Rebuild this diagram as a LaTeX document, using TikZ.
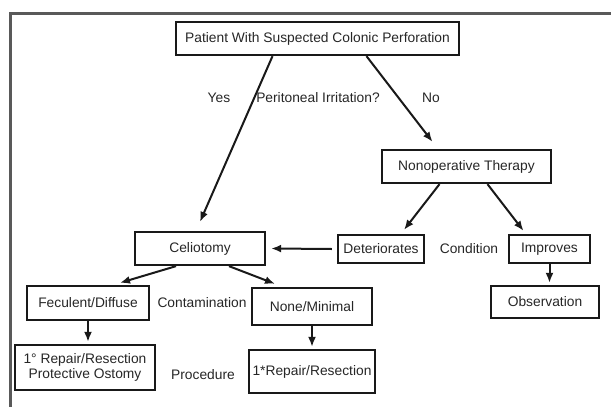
\documentclass[tikz,border=0pt]{standalone}
\usepackage{fontspec}
\setmainfont{Liberation Sans}
\usetikzlibrary{arrows.meta,calc}
\begin{document}
\begin{tikzpicture}[x=1pt,y=-1pt,
  every node/.style={font=\fontsize{13.8}{15.5}\selectfont, text=black!85},
  box/.style={draw=black!90, line width=2.3pt, inner sep=0pt, align=center},
  lbl/.style={inner sep=0pt},
  arr/.style={draw=black!90, line width=2pt, -{Latex[length=10pt,width=8pt]}},
  frame/.style={draw=black!65, line width=3pt}]
\useasboundingbox (0,0) rectangle (611,407);
\coordinate (fa) at (611,13);
\coordinate (fb) at (10,13);
\coordinate (fc) at (10,407);
\draw[frame] (fa) -- (fb) -- (fc);

\node[box, minimum width=283, minimum height=33] (top) at (317.5,38.5) {Patient With Suspected Colonic Perforation};
\node[box, minimum width=169, minimum height=33] (nonop) at (466.5,166.5) {Nonoperative Therapy};
\node[box, minimum width=130, minimum height=33] (celio) at (200,248.5) {Celiotomy};
\node[box, minimum width=86, minimum height=28] (det) at (381,249) {Deteriorates};
\node[box, minimum width=81, minimum height=28] (imp) at (549.5,249) {Improves};
\node[box, minimum width=108, minimum height=32] (obs) at (545,302) {Observation};
\node[box, minimum width=122, minimum height=34] (fec) at (88,303) {Feculent/Diffuse};
\node[box, minimum width=120, minimum height=37] (none) at (312,306.5) {None/Minimal};
\node[box, minimum width=140, minimum height=45] (rep1) at (85,367.5) {1° Repair/Resection\\Protective Ostomy};
\node[box, minimum width=126, minimum height=43] (rep2) at (312,371.5) {1*Repair/Resection};

\node[lbl] (yes) at (219,98) {Yes};
\node[lbl] (peri) at (318,98) {Peritoneal Irritation?};
\node[lbl] (no) at (431,98) {No};
\node[lbl] (cond) at (469,249) {Condition};
\node[lbl] (cont) at (202,303) {Contamination};
\node[lbl] (proc) at (203,375) {Procedure};

\draw[arr] ([xshift=-45pt]top.south) -- ([yshift=9pt]celio.north);
\draw[arr] ([xshift=49pt]top.south) -- ([xshift=-34pt,yshift=7pt]nonop.north);
\draw[arr] ([xshift=-27pt]nonop.south) -- ([xshift=23pt,yshift=4pt]det.north);
\draw[arr] ([xshift=21pt]nonop.south) -- ([xshift=-26pt,yshift=3pt]imp.north);
\draw[arr] ([xshift=-5pt]det.west) -- ([xshift=5pt]celio.east);
\draw[arr, shorten >=2pt] (imp.south) -- (imp.south |- obs.north);
\draw[arr] ([xshift=-24pt]celio.south) -- ([xshift=32pt,yshift=2pt]fec.north);
\draw[arr] ([xshift=29pt]celio.south) -- ([xshift=-37pt,yshift=3pt]none.north);
\draw[arr, shorten >=2pt] (fec.south) -- (fec.south |- rep1.north);
\draw[arr, shorten >=2pt] (none.south) -- (none.south |- rep2.north);
\end{tikzpicture}
\end{document}
